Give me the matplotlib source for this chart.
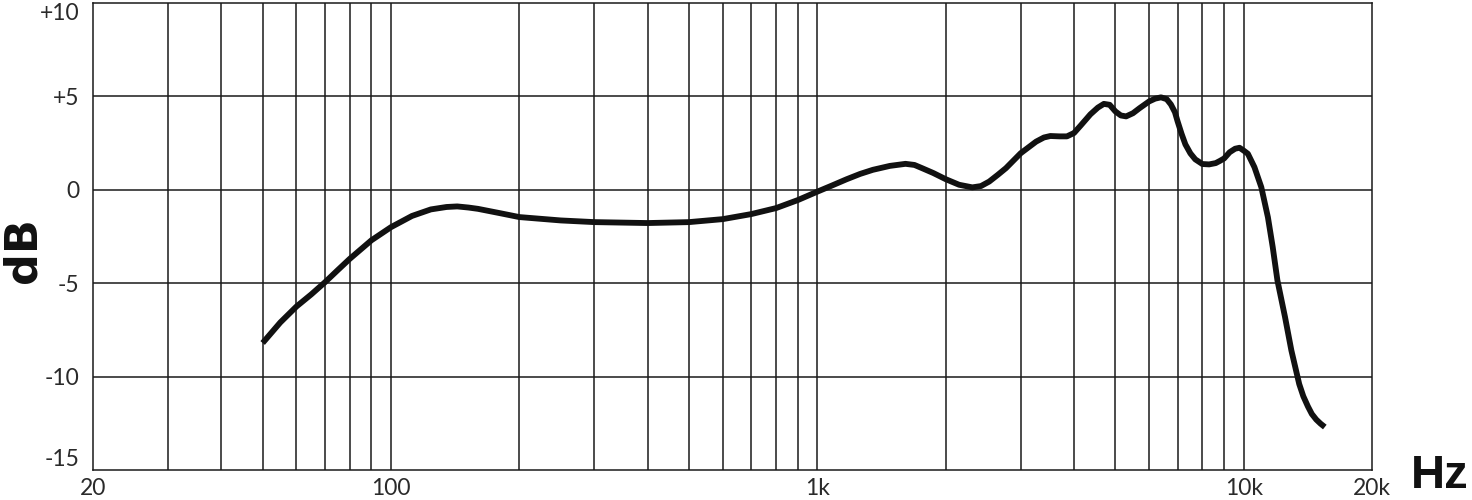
import matplotlib
matplotlib.use("Agg")
import matplotlib.pyplot as plt
from matplotlib.ticker import FixedLocator, NullFormatter, NullLocator

# frequency response (Hz, dB)
freq_hz = [
    50, 55, 60, 65, 70, 75, 80, 90, 100, 112, 124, 135, 143, 152, 160,
    180, 200, 250, 300, 400, 500, 600, 700, 800, 900, 1000, 1080, 1170,
    1260, 1350, 1480, 1610, 1690, 1760, 1870, 2000, 2150, 2310, 2420,
    2530, 2650, 2770, 3000, 3260, 3400, 3520, 3700, 3850, 4000, 4150,
    4370, 4550, 4700, 4850, 5000, 5150, 5300, 5500, 5700, 6000, 6200,
    6400, 6600, 6750, 6900, 7000, 7150, 7300, 7500, 7700, 8000, 8300,
    8600, 8800, 9000, 9270, 9550, 9780, 10000, 10230, 10600, 11000,
    11400, 11700, 12000, 12500, 12940, 13500, 13800, 14150, 14450,
    14800, 15150, 15500,
]
level_db = [
    -8.2, -7.1, -6.25, -5.6, -4.95, -4.3, -3.7, -2.7, -2.0, -1.4, -1.05,
    -0.92, -0.89, -0.95, -1.02, -1.25, -1.46, -1.64, -1.73, -1.78, -1.73,
    -1.57, -1.3, -0.98, -0.55, -0.1, 0.22, 0.56, 0.85, 1.07, 1.28, 1.39,
    1.33, 1.16, 0.9, 0.57, 0.27, 0.13, 0.2, 0.44, 0.8, 1.16, 1.96, 2.58,
    2.8, 2.88, 2.86, 2.86, 3.04, 3.45, 4.04, 4.4, 4.6, 4.55, 4.2, 3.98,
    3.93, 4.1, 4.37, 4.73, 4.88, 4.95, 4.85, 4.57, 4.15, 3.66, 3.0, 2.43,
    1.95, 1.63, 1.38, 1.36, 1.43, 1.55, 1.68, 2.01, 2.2, 2.25, 2.1, 1.93,
    1.21, 0.14, -1.47, -3.07, -4.85, -6.8, -8.6, -10.4, -11.05, -11.6,
    -12.0, -12.3, -12.52, -12.7,
]

grid_freqs = ([30, 40, 50, 60, 70, 80, 90, 100]
              + [200, 300, 400, 500, 600, 700, 800, 900, 1000]
              + [2000, 3000, 4000, 5000, 6000, 7000, 8000, 9000, 10000])
x_ticks = [20, 100, 1000, 10000, 20000]
x_labels = ["20", "100", "1k", "10k", "20k"]
y_ticks = [-15, -10, -5, 0, 5, 10]
y_labels = ["-15", "-10", "-5", "0", "+5", "+10"]

LABEL_FONT = ["Lato", "DejaVu Sans"]
INK = "#1a1a1a"

fig = plt.figure(figsize=(14.72, 5.0), dpi=100)
ax = fig.add_axes([93 / 1472, 30 / 500, 1279 / 1472, 467 / 500])

ax.set_xscale("log")
ax.set_xlim(20, 20000)
ax.set_ylim(-15, 10)

# grid drawn by hand so that only the listed decades get lines
for f in grid_freqs:
    ax.axvline(f, color=INK, linewidth=1.1, zorder=1)
for y in y_ticks[1:-1]:
    ax.axhline(y, color=INK, linewidth=1.1, zorder=1)

ax.plot(freq_hz, level_db, color="#111111", linewidth=4.2,
        solid_capstyle="butt", solid_joinstyle="round", zorder=3)

for s in ax.spines.values():
    s.set_color(INK)
    s.set_linewidth(1.1)

ax.xaxis.set_major_locator(FixedLocator(x_ticks))
ax.xaxis.set_minor_locator(NullLocator())
ax.xaxis.set_minor_formatter(NullFormatter())
ax.set_xticklabels(x_labels)
ax.set_yticks(y_ticks)
ax.set_yticklabels(y_labels)
ax.tick_params(axis="y", length=0, pad=10, labelsize=16.5, colors="#2a2a2a")
ax.tick_params(axis="x", length=0, pad=6, labelsize=16.5, colors="#2a2a2a")
for lbl in ax.get_xticklabels() + ax.get_yticklabels():
    lbl.set_family(LABEL_FONT)
# end labels sit inside the frame like the reference
ylbls = ax.get_yticklabels()
ylbls[0].set_va("bottom")
ylbls[-1].set_va("top")

fig.text(23 / 1472, 1 - 250 / 500, "dB", rotation=90, ha="center", va="center",
         fontsize=32, fontweight="bold", family="DejaVu Sans", color="#111111")
fig.text(1440 / 1472, 1 - 476 / 500, "Hz", ha="center", va="center",
         fontsize=34, fontweight="bold", family="Liberation Sans", color="#111111")

fig.savefig("out.png", dpi=100)
